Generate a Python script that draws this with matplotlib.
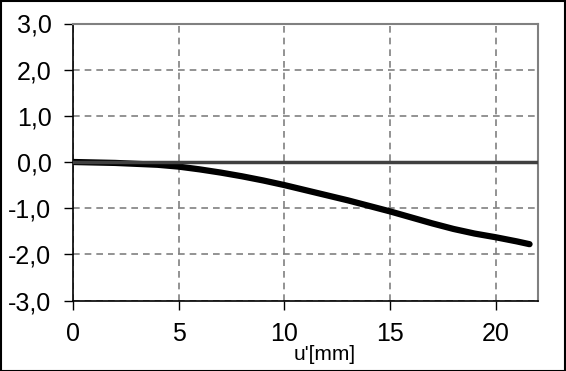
import matplotlib
matplotlib.use("Agg")
import matplotlib.pyplot as plt
from matplotlib.patches import Rectangle

plt.rcParams['font.family'] = ['Liberation Sans', 'DejaVu Sans']

x_vals = [0, 1, 2, 3, 4, 5, 6, 7, 8, 9, 10, 11, 12, 13, 14, 15, 16, 17, 18, 19, 20, 21, 21.6]
y_vals = [0.0, -0.01, -0.02, -0.04, -0.06, -0.10, -0.16, -0.23, -0.31, -0.40, -0.50,
          -0.61, -0.72, -0.83, -0.95, -1.07, -1.20, -1.33, -1.45, -1.55, -1.63, -1.72, -1.78]
x_ticks = [0, 5, 10, 15, 20]
y_ticks = [-3, -2, -1, 0, 1, 2, 3]
y_tick_labels = ['-3,0', '-2,0', '-1,0', '0,0', '1,0', '2,0', '3,0']

fig = plt.figure(figsize=(5.66, 3.71), dpi=100)
ax = fig.add_axes([73/566, 1-300.5/371, (538-73)/566, (300.5-23.5)/371])

ax.set_xlim(0, 22)
ax.set_ylim(-3, 3)
ax.set_xticks(x_ticks)
ax.set_yticks(y_ticks)
ax.set_yticklabels(y_tick_labels)
ax.tick_params(axis='both', labelsize=18, direction='out', length=6.5, width=1, colors='black')
ax.tick_params(axis='y', pad=9)
ax.tick_params(axis='x', pad=9)

ax.grid(True, color='#808080', linestyle=(0, (4, 3)), linewidth=1.2)
ax.set_axisbelow(True)

for s in ['top', 'right']:
    ax.spines[s].set_color('#808080')
    ax.spines[s].set_linewidth(1.5)
for s in ['left', 'bottom']:
    ax.spines[s].set_color('black')
    ax.spines[s].set_linewidth(1.2)

ax.plot(x_vals, y_vals, color='black', linewidth=4.5, solid_capstyle='round', zorder=3)
ax.axhline(0, color='#404040', linewidth=2.5, zorder=4)

fig.text(325/566, 1-354/371, "u'[mm]", fontsize=15, ha='center', va='center')

fig.patches.append(Rectangle((0.5/566, 0.5/371), 1-1.5/566, 1-1.5/371, transform=fig.transFigure,
                             fill=False, edgecolor='black', linewidth=1.5))

fig.savefig('out.png', dpi=100)
